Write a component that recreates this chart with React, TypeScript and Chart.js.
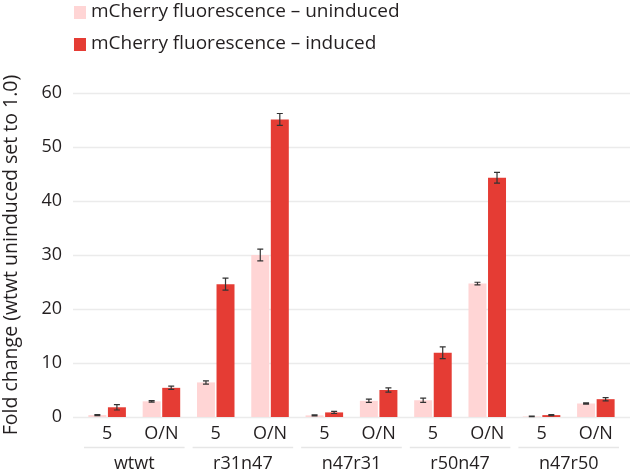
import React, { useEffect, useRef } from "react";
import { Chart, registerables } from "chart.js";

Chart.register(...registerables);

const groups = ["wtwt", "r31n47", "n47r31", "r50n47", "n47r50"];
const times = ["5", "O/N"];
const subLabels = groups.flatMap(() => times);
const uninduced = [0.35, 2.9, 6.4, 30.0, 0.3, 3.0, 3.1, 24.7, 0.1, 2.5];
const uninducedErr = [0.1, 0.15, 0.3, 1.1, 0.1, 0.3, 0.4, 0.25, 0.05, 0.1];
const induced = [1.8, 5.4, 24.6, 55.1, 0.85, 5.0, 11.9, 44.3, 0.35, 3.3];
const inducedErr = [0.5, 0.3, 1.1, 1.1, 0.2, 0.4, 1.1, 1.0, 0.1, 0.3];
const seriesNames = ["mCherry fluorescence – uninduced", "mCherry fluorescence – induced"];
const yTitle = "Fold change (wtwt uninduced set to 1.0)";

const FONT = "'Open Sans'";
const FS = 18;
const TEXT = "#231f20";
const UNINDUCED_COLOR = "#ffd5d5";
const INDUCED_COLOR = "#e53c34";
const GRID_COLOR = "#ebebeb";

const gridPlugin = {
  id: "extGrid",
  beforeDatasetsDraw(chart: any) {
    const { ctx, chartArea, scales } = chart;
    const y = scales.y;
    ctx.save();
    ctx.strokeStyle = GRID_COLOR;
    ctx.lineWidth = 1.5;
    y.ticks.forEach((t: any) => {
      const py = Math.round(y.getPixelForValue(t.value)) + 0.5;
      ctx.beginPath();
      ctx.moveTo(chartArea.left - 7, py);
      ctx.lineTo(chartArea.right + 7, py);
      ctx.stroke();
    });
    ctx.restore();
  },
};

const errorPlugin = {
  id: "errBars",
  afterDatasetsDraw(chart: any) {
    const { ctx, scales } = chart;
    const y = scales.y;
    ctx.save();
    ctx.strokeStyle = "#333333";
    ctx.lineWidth = 1.2;
    chart.data.datasets.forEach((ds: any, i: number) => {
      const meta = chart.getDatasetMeta(i);
      meta.data.forEach((bar: any, j: number) => {
        const v = ds.data[j];
        const e = ds.errors[j];
        const x = bar.x;
        const top = y.getPixelForValue(v + e);
        const bot = y.getPixelForValue(Math.max(0, v - e));
        ctx.beginPath();
        ctx.moveTo(x, top);
        ctx.lineTo(x, bot);
        ctx.moveTo(x - 3, top);
        ctx.lineTo(x + 3, top);
        ctx.moveTo(x - 3, bot);
        ctx.lineTo(x + 3, bot);
        ctx.stroke();
      });
    });
    ctx.restore();
  },
};

const separatorPlugin = {
  id: "groupSep",
  afterDraw(chart: any) {
    const { ctx, scales } = chart;
    const x = scales.x;
    const half = (x.getPixelForValue(1) - x.getPixelForValue(0)) / 2;
    const py = x.bottom - 3.5;
    ctx.save();
    ctx.strokeStyle = "#e6e6e6";
    ctx.lineWidth = 1.5;
    groups.forEach((_, g) => {
      const l = x.getPixelForValue(2 * g) - half + 4;
      const r = x.getPixelForValue(2 * g + 1) + half - 4;
      ctx.beginPath();
      ctx.moveTo(l, py);
      ctx.lineTo(r, py);
      ctx.stroke();
    });
    ctx.restore();
  },
};

const legendPlugin = {
  id: "vLegend",
  afterDraw(chart: any) {
    const { ctx, chartArea } = chart;
    ctx.save();
    ctx.font = `19px ${FONT}`;
    ctx.textBaseline = "middle";
    ctx.textAlign = "left";
    chart.data.datasets.forEach((ds: any, i: number) => {
      const cy = 12 + i * 32;
      const lx = chartArea.left - 6;
      ctx.fillStyle = ds.backgroundColor;
      ctx.fillRect(lx, cy - 6, 12, 13);
      ctx.fillStyle = TEXT;
      ctx.fillText(ds.label, lx + 17, cy);
    });
    ctx.restore();
  },
};

export default function App() {
  const ref = useRef<HTMLCanvasElement>(null);
  useEffect(() => {
    if (!ref.current) return;
    const chart = new Chart(ref.current, {
      type: "bar",
      data: {
        labels: subLabels,
        datasets: [
          {
            label: seriesNames[0],
            data: uninduced,
            errors: uninducedErr,
            backgroundColor: UNINDUCED_COLOR,
            borderWidth: 0,
            categoryPercentage: 0.72,
            barPercentage: 0.92,
          } as any,
          {
            label: seriesNames[1],
            data: induced,
            errors: inducedErr,
            backgroundColor: INDUCED_COLOR,
            borderWidth: 0,
            categoryPercentage: 0.72,
            barPercentage: 0.92,
          } as any,
        ],
      },
      options: {
        animation: false,
        responsive: false,
        maintainAspectRatio: false,
        layout: { padding: { top: 93, right: 10, bottom: -2, left: 0 } },
        plugins: {
          legend: { display: false },
          tooltip: { enabled: false },
        },
        scales: {
          x: {
            type: "category",
            position: "bottom",
            weight: 1,
            grid: { display: false, drawTicks: false },
            border: { display: false },
            ticks: {
              color: TEXT,
              font: { family: FONT, size: FS, lineHeight: 1 },
              padding: 8,
              maxRotation: 0,
              autoSkip: false,
            },
          },
          x2: {
            type: "category",
            position: "bottom",
            weight: 2,
            labels: groups,
            grid: { display: false, drawTicks: false },
            border: { display: false },
            ticks: {
              color: TEXT,
              font: { family: FONT, size: FS, lineHeight: 1 },
              padding: 3.5,
              maxRotation: 0,
              autoSkip: false,
            },
          },
          y: {
            min: 0,
            max: 60,
            grid: { display: false, drawTicks: false },
            border: { display: false },
            ticks: {
              stepSize: 10,
              color: TEXT,
              font: { family: FONT, size: FS, lineHeight: 1 },
              padding: 18,
            },
            title: {
              display: true,
              text: yTitle,
              color: TEXT,
              font: { family: FONT, size: 19.5, lineHeight: 1.2 },
              padding: { top: 0, bottom: 0 },
            },
          },
        },
      },
      plugins: [gridPlugin, errorPlugin, separatorPlugin, legendPlugin],
    });
    return () => chart.destroy();
  }, []);
  return (
    <div style={{ position: "fixed", left: 0, top: 0, width: 633, height: 474, background: "#fff" }}>
      <canvas ref={ref} width={633} height={474} style={{ display: "block" }} />
    </div>
  );
}
